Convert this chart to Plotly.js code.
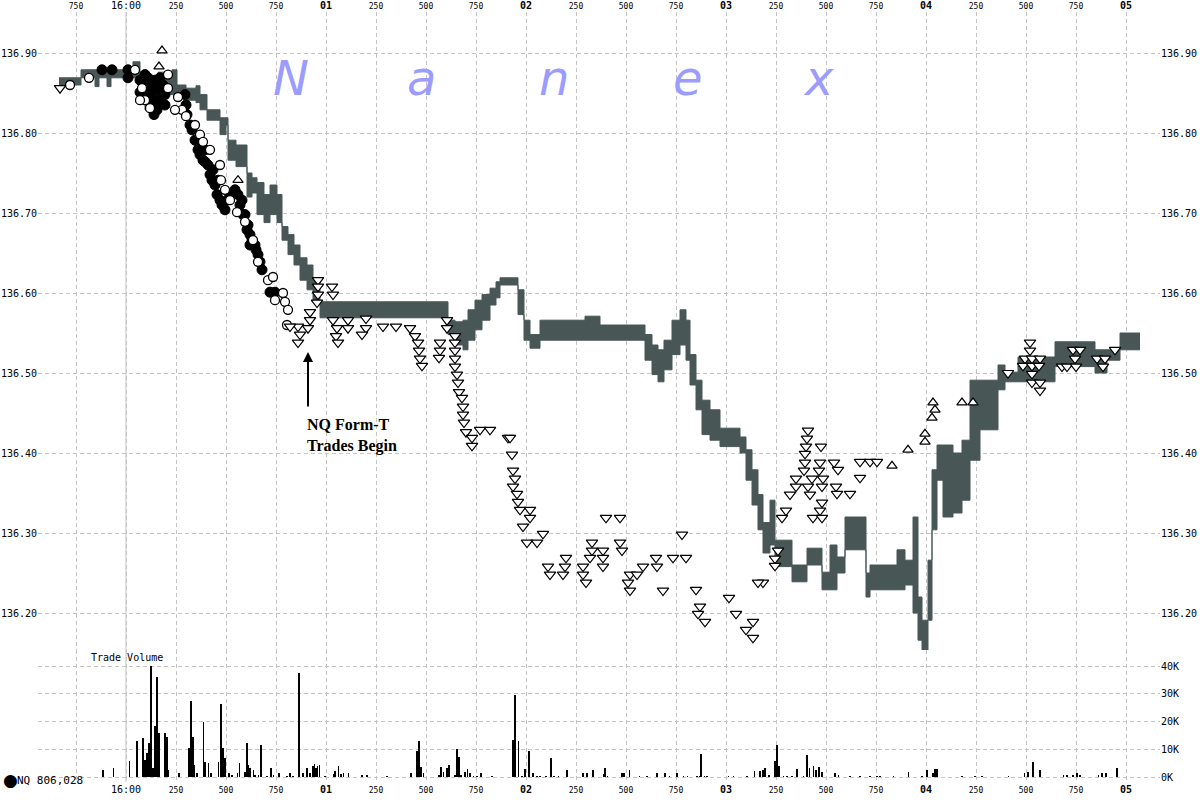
<!DOCTYPE html>
<html>
<head>
<meta charset="utf-8">
<script src="https://cdn.plot.ly/plotly-3.0.1.min.js"></script>
<style>html,body{margin:0;padding:0;background:#fff;}#chart{width:1200px;height:800px;}</style>
</head>
<body>
<div id="chart"></div>
<script>
// ---- time axis ticks (ms relative to 16:00:00.000) ----
const tickVals = [-250,0,250,500,750,1000,1250,1500,1750,2000,2250,2500,2750,3000,3250,3500,3750,4000,4250,4500,4750,5000];
const tickLabels = ['750','16:00','250','500','750','01','250','500','750','02','250','500','750','03','250','500','750','04','250','500','750','05'];
const priceTicks = [136.20,136.30,136.40,136.50,136.60,136.70,136.80,136.90];
const volTicks = [0,10000,20000,30000,40000];
const volTickText = ['0K','10K','20K','30K','40K'];

// ---- best bid / ask band ----
const bandT = [-335,-225,-155,-135,-95,-75,35,70,95,120,160,195,230,255,300,350,370,405,470,500,510,550,605,630,655,690,720,755,780,810,840,870,905,935,970,1610,1645,1685,1710,1745,1780,1820,1850,1870,1960,1990,2020,2070,2295,2370,2595,2630,2660,2690,2730,2770,2800,2820,2850,2880,2920,2970,3070,3100,3130,3160,3185,3220,3245,3330,3405,3480,3520,3555,3595,3700,3720,3855,3895,3935,3960,3980,4010,4030,4055,4085,4135,4180,4220,4270,4360,4395,4460,4605,4645,4760,4845,4905,4970,5070];
const askP = [136.869,136.879,136.879,136.879,136.879,136.879,136.889,136.876,136.873,136.869,136.876,136.869,136.879,136.860,136.856,136.859,136.848,136.829,136.819,136.819,136.791,136.785,136.750,136.744,136.738,136.723,136.735,136.723,136.683,136.673,136.660,136.644,136.635,136.616,136.589,136.566,136.564,136.566,136.579,136.591,136.598,136.606,136.614,136.619,136.604,136.566,136.548,136.566,136.571,136.560,136.548,136.535,136.529,136.541,136.566,136.579,136.566,136.523,136.491,136.466,136.454,136.431,136.420,136.404,136.379,136.348,136.313,136.341,136.291,136.260,136.281,136.251,136.285,136.270,136.320,136.250,136.260,136.279,136.266,136.320,136.220,136.191,136.266,136.379,136.410,136.410,136.400,136.416,136.491,136.491,136.510,136.501,136.520,136.520,136.539,136.539,136.529,136.529,136.550,136.550];
const bidP = [136.860,136.869,136.858,136.869,136.858,136.869,136.869,136.848,136.829,136.823,136.841,136.848,136.848,136.845,136.841,136.838,136.829,136.816,136.798,136.810,136.766,136.758,136.720,136.725,136.698,136.688,136.698,136.688,136.666,136.648,136.635,136.616,136.604,136.591,136.569,136.548,136.535,136.529,136.541,136.554,136.566,136.585,136.594,136.610,136.573,136.541,136.531,136.541,136.541,136.541,136.516,136.498,136.489,136.504,136.523,136.535,136.516,136.485,136.454,136.423,136.416,136.408,136.400,136.366,136.335,136.304,136.275,136.285,136.258,136.239,136.260,136.229,136.229,136.250,136.279,136.220,136.229,136.229,136.235,136.200,136.166,136.150,136.191,136.304,136.366,136.320,136.325,136.341,136.391,136.429,136.479,136.489,136.489,136.489,136.508,136.508,136.500,136.516,136.529,136.529];

// ---- regular trades (filled) ----
const blackT = [-120,-70,10,10,70,95,120,145,170,120,145,160,185,110,195,70,130,170,95,155,195,140,150,165,295,300,305,320,330,345,360,370,385,395,410,420,430,445,455,470,480,495,370,395,435,460,505,520,545,560,580,570,595,610,620,630,645,660,670,680,585,605,620,650,720,745];
const blackP = [136.879,136.879,136.879,136.869,136.866,136.860,136.856,136.866,136.869,136.848,136.841,136.854,136.860,136.869,136.848,136.851,136.835,136.841,136.873,136.829,136.835,136.823,136.861,136.858,136.848,136.835,136.823,136.810,136.804,136.791,136.779,136.773,136.766,136.764,136.760,136.748,136.741,136.735,136.723,136.716,136.710,136.704,136.785,136.779,136.754,136.741,136.716,136.723,136.729,136.723,136.716,136.710,136.698,136.685,136.673,136.666,136.660,136.648,136.639,136.629,136.698,136.679,136.660,136.654,136.601,136.601];

// ---- trades (open) ----
const whiteT = [-280,-185,45,80,95,120,70,210,210,260,280,245,300,345,370,385,420,470,475,495,520,555,595,635,660,710,735,785,795,810,805,745];
const whiteP = [136.860,136.869,136.879,136.856,136.841,136.831,136.841,136.873,136.856,136.845,136.829,136.829,136.821,136.810,136.798,136.789,136.779,136.760,136.741,136.729,136.716,136.701,136.689,136.666,136.639,136.616,136.620,136.600,136.589,136.579,136.560,136.591];

// ---- Form-T trades below bid ----
const formTT = [-330,960,960,1030,960,1035,955,920,920,910,860,820,870,860,1035,1110,1200,1055,1110,1200,1050,1060,1180,1285,1350,1420,1445,1460,1465,1470,1480,1570,1570,1565,1605,1605,1645,1645,1645,1645,1645,1655,1660,1665,1680,1685,1685,1690,1700,1730,1770,1820,1730,1910,1920,1930,1935,1945,1935,1955,1960,1970,2020,2020,1985,2085,2005,2055,2400,2470,2330,2470,2330,2385,2480,2200,2320,2385,2650,2735,2800,2110,2195,2285,2385,2585,2655,2120,2185,2285,2520,2555,2300,2510,2520,2685,2850,2780,2870,2860,2895,3015,3050,3135,3100,3135,3185,3160,3260,3245,3245,3280,3300,3410,3405,3400,3475,3395,3395,3470,3540,3390,3465,3560,3350,3430,3485,3350,3410,3480,3550,3320,3420,3555,3620,3480,3470,3435,3480,3670,3720,3755,3670,4520,4520,4495,4530,4570,4485,4530,4565,4530,4530,4570,4570,4410,4735,4770,4745,4680,4705,4750,4855,4895,4885,4945];
const formTP = [136.856,136.616,136.608,136.608,136.598,136.598,136.588,136.576,136.566,136.556,136.558,136.558,136.548,136.538,136.566,136.566,136.568,136.556,136.556,136.556,136.546,136.538,136.548,136.558,136.558,136.556,136.546,136.538,136.528,136.518,136.509,136.538,136.528,136.519,136.566,136.556,136.546,136.538,136.528,136.518,136.508,136.498,136.488,136.476,136.469,136.458,136.448,136.438,136.426,136.419,136.429,136.429,136.409,136.419,136.419,136.398,136.378,136.368,136.358,136.349,136.339,136.329,136.329,136.319,136.308,136.299,136.288,136.288,136.319,136.319,136.288,136.288,136.278,136.278,136.278,136.269,136.269,136.269,136.269,136.269,136.269,136.258,136.258,136.258,136.258,136.258,136.258,136.248,136.248,136.248,136.248,136.248,136.238,136.238,136.228,136.228,136.229,136.298,136.208,136.199,136.189,136.219,136.199,136.189,136.179,136.169,136.238,136.238,136.278,136.268,136.259,136.319,136.328,136.428,136.418,136.408,136.408,136.399,136.388,136.388,136.388,136.378,136.378,136.379,136.368,136.368,136.368,136.358,136.358,136.358,136.358,136.348,136.348,136.349,136.349,136.338,136.328,136.319,136.319,136.389,136.389,136.389,136.369,136.538,136.528,136.518,136.518,136.518,136.509,136.509,136.509,136.499,136.488,136.488,136.478,136.500,136.529,136.529,136.518,136.508,136.508,136.508,136.518,136.518,136.508,136.529];

// ---- Form-T trades above ask ----
const formTUpT = [180,165,560,4035,4180,4235,4045,4030,3995,3995,3910,3830];
const formTUpP = [136.903,136.883,136.741,136.463,136.463,136.463,136.454,136.444,136.424,136.414,136.404,136.384];

// ---- trade volume ----
const volT = [-117,-63,17,53,83,95,103,115,125,133,145,155,165,195,203,212,265,315,325,333,342,353,387,395,412,425,462,473,483,495,515,528,557,567,595,603,612,620,637,645,662,675,703,723,737,765,803,820,833,865,883,903,920,933,942,950,957,967,995,1037,1045,1062,1073,1087,1112,1178,1203,1303,1425,1453,1465,1475,1487,1565,1575,1587,1603,1615,1645,1653,1665,1675,1695,1707,1720,1737,1753,1773,1828,1933,1945,1962,1978,1995,2015,2033,2053,2070,2098,2123,2140,2162,2203,2283,2303,2333,2387,2395,2407,2478,2490,2517,2567,2603,2653,2695,2717,2753,2787,2807,2853,2870,2875,2892,2903,3012,3037,3103,3142,3170,3183,3195,3215,3245,3253,3265,3287,3303,3328,3353,3387,3403,3417,3437,3450,3465,3478,3545,3562,3620,3670,3720,3753,3770,3837,3912,3978,4003,4033,4045,4053,4178,4245,4278,4412,4492,4508,4533,4570,4687,4703,4733,4753,4770,4862,4878,4900,4953];
const volV = [2500,3400,5800,13000,13900,6100,8500,12100,40000,3100,18400,35900,15700,15700,14500,2500,1600,10300,27400,14500,4300,1300,19900,5500,4900,1600,5500,26300,10300,6700,1300,700,1300,5200,1900,12400,4300,3100,2500,700,700,11500,300,3100,700,1300,300,1300,400,37400,1300,3100,1600,4000,4600,3100,4000,4300,400,1000,2300,4000,1000,1600,1600,700,700,300,1600,9400,13000,3700,1300,700,3700,1900,3100,4300,700,10100,7300,700,1900,2800,1300,400,400,1300,300,13300,29500,13000,400,2900,9400,1300,400,300,300,6700,300,400,2500,1600,1600,2500,1000,3100,300,1300,1300,2500,400,400,1300,1300,300,1300,400,400,400,400,8200,400,300,300,300,400,2200,2200,2500,3100,700,5800,11500,4000,300,300,400,2900,400,7900,3100,4000,2500,3500,1900,1300,700,300,400,300,400,300,400,1900,400,2500,1600,2800,2800,300,300,300,300,1300,1900,5500,2500,700,700,700,1600,700,700,1300,1600,3400];

const bandColor = '#485656';
const gridColor = '#c4c4c4';
const mono = 'DejaVu Sans Mono';

// styled tick labels: seconds bold, sub-second labels small
function styleTick(s) {
  if (/^0\d$/.test(s)) return '<b>' + s + '</b>';
  if (s.indexOf(':') >= 0) return s;
  return '<span style="font-size:8px">' + s + '</span>';
}
const tickTextTop = tickLabels.map(styleTick);
const tickTextBottom = tickLabels.map((s, i) => i === 0 ? '' : styleTick(s));

const traces = [
  {x: bandT, y: bidP, xaxis:'x', yaxis:'y', mode:'lines', line:{shape:'hv', color:bandColor, width:1}, hoverinfo:'skip'},
  {x: bandT, y: askP, xaxis:'x', yaxis:'y', mode:'lines', line:{shape:'hv', color:bandColor, width:1}, fill:'tonexty', fillcolor:bandColor, hoverinfo:'skip'},
  {x: volT, y: volV, xaxis:'x', yaxis:'y2', type:'bar', width:9, marker:{color:'#000', line:{width:0}}},
  {x: blackT, y: blackP, xaxis:'x', yaxis:'y', mode:'markers', marker:{symbol:'circle', size:10, color:'#000', line:{color:'#000', width:1}}},
  {x: whiteT, y: whiteP, xaxis:'x', yaxis:'y', mode:'markers', marker:{symbol:'circle', size:9, color:'#fff', line:{color:'#000', width:1.3}}},
  {x: formTT, y: formTP, xaxis:'x', yaxis:'y', mode:'markers', marker:{symbol:'triangle-down', size:10, color:'#fff', line:{color:'#000', width:1.2}}},
  {x: formTUpT, y: formTUpP, xaxis:'x', yaxis:'y', mode:'markers', marker:{symbol:'triangle-up', size:9, color:'#fff', line:{color:'#000', width:1.2}}}
];

const L = 38, R = 1160, T = 12, B = 782;
const px = v => (v - L) / (R - L);
const py = v => (B - v) / (B - T);
const volFrac = 132 / 770;

const letters = [['N',291],['a',421],['n',554],['e',688],['x',818]];
const annotations = letters.map(([ch, xc]) => ({
  xref:'paper', yref:'paper', x: px(xc), y: py(78), xanchor:'center', yanchor:'middle',
  text:'<i>' + ch + '</i>', showarrow:false,
  font:{family:'DejaVu Sans', size:48, color:'#9c9cff'}
}));
annotations.push(
  {xref:'paper', yref:'paper', x: px(305), y: py(435), xanchor:'left', yanchor:'middle', align:'left',
   text:'<b>NQ Form-T<br>Trades Begin</b>', showarrow:false,
   font:{family:'Liberation Serif', size:16, color:'#000'}},
  {xref:'paper', yref:'paper', x: px(308), y: py(352), text:'', showarrow:true, ax:0, ay:56,
   arrowhead:2, arrowsize:1, arrowwidth:2, arrowcolor:'#000'},
  {xref:'paper', yref:'paper', x: px(89), y: py(657), xanchor:'left', yanchor:'middle',
   text:'Trade Volume', showarrow:false, font:{family:mono, size:10, color:'#000'}},
  {xref:'paper', yref:'paper', x: px(1), y: py(780), xanchor:'left', yanchor:'middle',
   text:'●', showarrow:false, font:{family:'DejaVu Sans', size:17, color:'#000'}},
  {xref:'paper', yref:'paper', x: px(15), y: py(780), xanchor:'left', yanchor:'middle',
   text:'NQ 806,028', showarrow:false, font:{family:mono, size:11, color:'#000'}}
);

const timeRange = [(L - 126) * 5, (R - 126) * 5];
const priceRange = [136.90 - (650 - 53) / 800, 136.90 + (53 - 12) / 800];
const volRange = [-(782 - 777) / 2.775 * 1000, (777 - 650) / 2.775 * 1000];

const layout = {
  width:1200, height:800,
  margin:{l:L, r:1200 - R, t:T, b:800 - B, pad:0},
  paper_bgcolor:'#fff', plot_bgcolor:'#fff',
  showlegend:false,
  bargap:0,
  xaxis:{range:timeRange, tickmode:'array', tickvals:tickVals, ticktext:tickTextBottom,
    showgrid:true, gridcolor:gridColor, griddash:'4px,3px', gridwidth:1, zeroline:false, showline:false,
    ticks:'', tickfont:{family:mono, size:10, color:'#000'}, anchor:'y2', side:'bottom'},
  xaxis2:{range:timeRange, overlaying:'x', matches:'x', side:'top', anchor:'y', tickmode:'array', tickvals:tickVals, ticktext:tickTextTop,
    showgrid:false, zeroline:false, showline:false, ticks:'', ticklabelstandoff:0, tickfont:{family:mono, size:10, color:'#000'}},
  yaxis:{domain:[volFrac, 1], range:priceRange, tickmode:'array', tickvals:priceTicks, tickformat:'.2f',
    showgrid:true, gridcolor:gridColor, griddash:'4px,3px', zeroline:false, showline:false, ticks:'',
    tickfont:{family:mono, size:10, color:'#000'}, side:'left'},
  yaxis3:{range:priceRange, overlaying:'y', side:'right', anchor:'x', tickmode:'array', tickvals:priceTicks, tickformat:'.2f',
    showgrid:false, zeroline:false, showline:false, ticks:'', tickfont:{family:mono, size:10, color:'#000'}},
  yaxis2:{domain:[0, volFrac], range:volRange, tickmode:'array', tickvals:volTicks, ticktext:volTickText,
    showgrid:true, gridcolor:gridColor, griddash:'4px,3px', zeroline:false, showline:false, ticks:'',
    tickfont:{family:mono, size:10, color:'#000'}, side:'right'},
  shapes:[{type:'line', xref:'x', yref:'paper', x0:0, x1:0, y0:0, y1:1, line:{color:gridColor, width:1}, layer:'below'}],
  annotations: annotations
};

// invisible trace to activate the top time axis and right price axis
traces.push({x:[timeRange[0]], y:[priceRange[0]], xaxis:'x2', yaxis:'y3', mode:'markers', marker:{opacity:0}, hoverinfo:'skip'});

Plotly.newPlot('chart', traces, layout, {displayModeBar:false, staticPlot:true});
</script>
</body>
</html>
